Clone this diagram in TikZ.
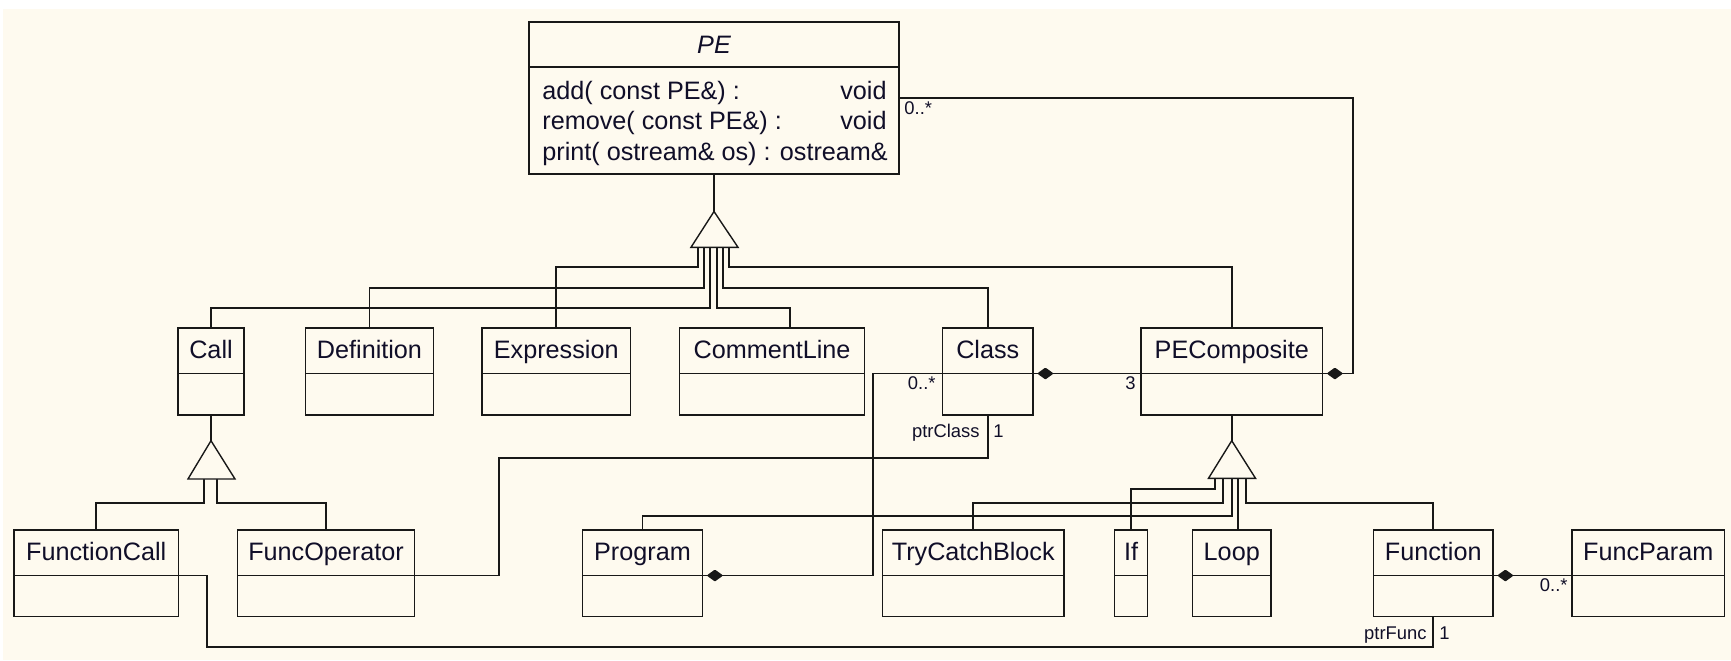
\documentclass[tikz,border=0pt]{standalone}
\usepackage{fontspec}
\setmainfont{Liberation Sans}
\usetikzlibrary{calc,decorations.markings}
\definecolor{bgc}{RGB}{254,250,239}
\definecolor{linec}{RGB}{24,24,24}
\definecolor{textc}{RGB}{16,14,40}
\newcommand\umlcls[7]{%
  \coordinate (#1-s) at (0,#6);
  \node[umlbox, minimum width={(#4-#2)*0.5pt}, minimum height={(#5-#3)*0.5pt}] (#1) at ({(#2+#4)/2},{(#3+#5)/2}) {};
  \draw[boxline] (#1.west |- #1-s) -- (#1.east |- #1-s);
  \node[clsname, anchor=base] (#1-t) at ($(#1.north |- #1-s)+(0,-15.5)$) {#7};
}
\begin{document}
\begin{tikzpicture}[x=0.5pt, y=-0.5pt,
  umlbox/.style={draw=linec, line width=0.95pt, inner sep=0pt, outer sep=0pt},
  boxline/.style={draw=linec, line width=0.95pt},
  clsname/.style={font=\fontsize{12.6}{15}\selectfont, text=textc, inner sep=0pt},
  meth/.style={font=\fontsize{12.6}{15}\selectfont, text=textc, inner sep=0pt},
  mult/.style={font=\fontsize{9.2}{11}\selectfont, text=textc, inner sep=0pt},
  conn/.style={draw=linec, line width=0.95pt},
  comp/.style={conn, postaction={decorate}, decoration={markings, mark=at position 0 with {\filldraw[linec, line width=1.1pt, line join=round] (3pt,0pt) -- (6.2pt,2.3pt) -- (9.4pt,0pt) -- (6.2pt,-2.3pt) -- cycle;}}},
  tri/.style={draw=linec, line width=0.7pt, fill=bgc}]
\useasboundingbox (0,0) rectangle (1731,660);
\fill[white] (0,0) rectangle (1731,660);
\fill[bgc] (3,9) rectangle (1731,660);

% PE class
\coordinate (PE-s) at (0,66.7);
\node[umlbox, minimum width=185pt, minimum height=76pt] (PE) at (714,98) {};
\draw[boxline] (PE.west |- PE-s) -- (PE.east |- PE-s);
\node[clsname, anchor=base] (PE-t) at (714,53.5) {\itshape PE};
\node[meth, anchor=base west] (PEm1) at (542,99) {add( const PE\&) :};
\node[meth, anchor=base east] (PEm1r) at (887,99) {void};
\node[meth, anchor=base west] (PEm2) at (542,129.5) {remove( const PE\&) :};
\node[meth, anchor=base east] (PEm2r) at (887,129.5) {void};
\node[meth, anchor=base west] (PEm3) at (542,160) {print( ostream\& os) : ostream\&};

% Row 2
\umlcls{Call}{178}{328}{244}{415}{373.5}{Call}
\umlcls{Definition}{305.5}{328}{433.5}{415}{373.5}{Definition}
\umlcls{Expression}{482}{328}{630.5}{415}{373.5}{Expression}
\umlcls{CommentLine}{679.5}{328}{864.5}{415}{373.5}{CommentLine}
\umlcls{Class}{942.5}{328}{1033}{415}{373.5}{Class}
\umlcls{PEComposite}{1141}{328}{1322.5}{415}{373.5}{PEComposite}
% Row 3
\umlcls{FunctionCall}{14}{530}{178.5}{616.5}{575.5}{FunctionCall}
\umlcls{FuncOperator}{237.5}{530}{414.5}{616.5}{575.5}{FuncOperator}
\umlcls{Program}{582.5}{530}{702.5}{616.5}{575.5}{Program}
\umlcls{TryCatchBlock}{882.5}{530}{1064}{616.5}{575.5}{TryCatchBlock}
\umlcls{If}{1114.5}{530}{1147.5}{616.5}{575.5}{If}
\umlcls{Loop}{1192.5}{530}{1271}{616.5}{575.5}{Loop}
\umlcls{Function}{1373.5}{530}{1493}{616.5}{575.5}{Function}
\umlcls{FuncParam}{1572}{530}{1724.5}{616.5}{575.5}{FuncParam}

% Generalization to PE
\coordinate (t1) at (714,211.5);
\draw[conn] (PE.south) -- (t1);
\draw[conn] (Expression.north) |- (698.3,266.7) -- (698.3,247.3);
\draw[conn] (Definition.north) |- (704.3,287.7) -- (704.3,247.3);
\draw[conn] (Call.north) |- (710.3,308) -- (710.3,247.3);
\draw[conn] ($(CommentLine.north)+(18.3,0)$) |- (716.7,308) -- (716.7,247.3);
\draw[conn] (Class.north) |- (722.7,287.7) -- (722.7,247.3);
\draw[conn] (PEComposite.north) |- (728.7,266.7) -- (728.7,247.3);
\draw[tri] (t1) -- (691,247.3) -- (738,247.3) -- cycle;

% Generalization to Call
\coordinate (t2) at (211,440.7);
\draw[conn] (Call.south) -- (t2);
\draw[conn] (FunctionCall.north) |- (203.6,503.3) -- (203.6,479);
\draw[conn] (FuncOperator.north) |- (217.4,503.3) -- (217.4,479);
\draw[tri] (t2) -- (188,479) -- (235,479) -- cycle;

% Generalization to PEComposite
\coordinate (t3) at (1231.75,440.7);
\draw[conn] (PEComposite.south) -- (t3);
\draw[conn] (If.north) |- (1215.3,489.3) -- (1215.3,478.3);
\draw[conn] (TryCatchBlock.north) |- (1223.3,503.3) -- (1223.3,478.3);
\draw[conn] (Program.north) |- (1231.7,516) -- (1231.7,478.3);
\draw[conn] ($(Loop.north)+(6.5,0)$) -- (1238.25,478.3);
\draw[conn] (Function.north) |- (1246,503.3) -- (1246,478.3);
\draw[tri] (t3) -- (1208.5,478.3) -- (1255.5,478.3) -- cycle;

% Associations
\draw[comp] (PEComposite.east |- PEComposite-s) -| (1353,98) -- (PE.east);
\node[mult, anchor=base west] (mPE) at (904,114) {0..*};

\draw[comp] (Class.east |- Class-s) -- (PEComposite.west |- PEComposite-s);
\node[mult, anchor=base east] (m3) at (1136,389) {3};

\draw[comp] (Program.east |- Program-s) -| (872.6,373.5) -- (Class.west |- Class-s);
\node[mult, anchor=base east] (mCl) at (936,389) {0..*};

\draw[conn] (Class.south) |- (498.7,458.3) |- (FuncOperator.east |- FuncOperator-s);
\node[mult, anchor=base east] (mPtrC) at (980,437) {ptrClass};
\node[mult, anchor=base west] (mPtrC1) at (993,437) {1};

\draw[conn] (FunctionCall.east |- FunctionCall-s) -| (207.4,647.3) -| (Function.south);
\node[mult, anchor=base east] (mPtrF) at (1427,639) {ptrFunc};
\node[mult, anchor=base west] (mPtrF1) at (1439,639) {1};

\draw[comp] (Function.east |- Function-s) -- (FuncParam.west |- FuncParam-s);
\node[mult, anchor=base east] (mFP) at (1568,591) {0..*};
\end{tikzpicture}
\end{document}
